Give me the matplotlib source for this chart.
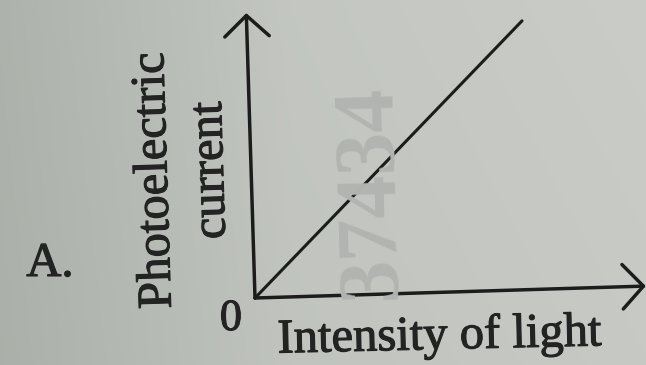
import numpy as np
import matplotlib.pyplot as plt
import matplotlib.patheffects as pe
from matplotlib.transforms import Affine2D

plt.rcParams["font.family"] = "Liberation Serif"

# ----------------------------------
# straight line through the origin: photocurrent ~ intensity
intensity = [0.0, 1.0]
current = [0.0, 1.0]
x_end = 1.42          # length of the intensity axis arrow
y_end = 1.06          # length of the current axis arrow

ink = "#1c1c1c"
text_ink = "#232323"
tilt = 1.75           # the photo is a little rotated

fig = plt.figure(figsize=(6.46, 3.65), dpi=100)

# paper background, darker on the left side
bg = fig.add_axes([0, 0, 1, 1], zorder=-5)
left_c = np.array([0.68, 0.70, 0.675])
mid_c = np.array([0.765, 0.778, 0.758])
right_c = np.array([0.79, 0.80, 0.78])
s = np.linspace(0, 1, 400)
row = np.where(s[:, None] < 0.45,
               left_c + (mid_c - left_c) * (s[:, None] / 0.45),
               mid_c + (right_c - mid_c) * ((s[:, None] - 0.45) / 0.55))
vert = np.linspace(1.0, 0.985, 200)[:, None, None]
bg.imshow(row[None, :, :] * vert, aspect="auto", extent=[0, 1, 0, 1])
bg.axis("off")

# watermark
fig.text(372 / 646, 1 - 192 / 365, "37434", rotation=90 + tilt, fontsize=62,
         fontweight="bold", color="#b1b4b0", ha="center", va="center")

ax = fig.add_axes([255 / 646, 67 / 365, 391 / 646, 285 / 365])
ax.set_xlim(0, x_end)
ax.set_ylim(0, y_end)
ax.axis("off")

x0, y0 = ax.transData.transform((0, 0))
tr = ax.transData + Affine2D().rotate_deg_around(x0, y0, tilt)

ax.plot(intensity, current, color=ink, lw=2.2, transform=tr,
        clip_on=False, solid_capstyle="round")

arrow_kw = dict(arrowstyle="->,head_length=0.75,head_width=0.8", lw=2.5,
                color=ink, shrinkA=0, shrinkB=0, mutation_scale=20)
ax.annotate("", xy=(x_end, 0), xytext=(0, 0), xycoords=tr, textcoords=tr,
            arrowprops=arrow_kw)
ax.annotate("", xy=(0, y_end), xytext=(0, 0), xycoords=tr, textcoords=tr,
            arrowprops=arrow_kw)

# labels, slightly heavier like the printed page
heavy = [pe.withStroke(linewidth=0.8, foreground=text_ink)]
fig.text(50 / 646, 1 - 276 / 365, "A.", fontsize=35, color=text_ink,
         ha="center", va="baseline", path_effects=heavy)
fig.text(167 / 646, 1 - 180 / 365, "Photoelectric", fontsize=35,
         color=text_ink, rotation=90 + tilt, rotation_mode="anchor",
         ha="center", va="baseline", path_effects=heavy)
fig.text(223 / 646, 1 - 170 / 365, "current", fontsize=35,
         color=text_ink, rotation=90 + tilt, rotation_mode="anchor",
         ha="center", va="baseline", path_effects=heavy)
fig.text(231 / 646, 1 - 330 / 365, "0", fontsize=32, color=text_ink,
         ha="center", va="baseline", path_effects=heavy)
fig.text(440 / 646, 1 - 349 / 365, "Intensity of light", fontsize=35,
         color=text_ink, rotation=1.3, rotation_mode="anchor",
         ha="center", va="baseline", path_effects=heavy)

plt.savefig("out.png", dpi=100)
